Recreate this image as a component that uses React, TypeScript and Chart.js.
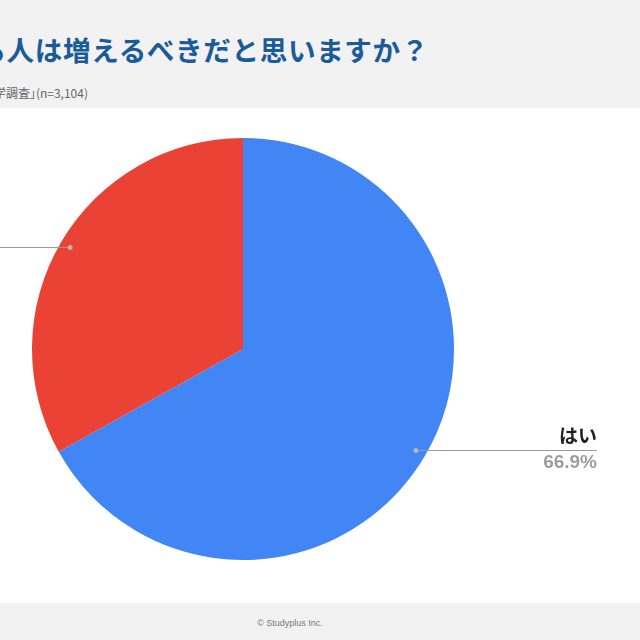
import React, { useEffect, useRef } from "react";
import { Chart, registerables } from "chart.js";

Chart.register(...registerables);

const categories = ["はい", "いいえ"];
const values = [66.9, 33.1];
const colors = ["#4285F4", "#EA4335"];
const titleText = "海外留学する人は増えるべきだと思いますか？";
const subtitleText = "「高校生の留学調査」(n=3,104)";
const footerText = "© Studyplus Inc.";

const leaderPlugin = {
  id: "leaders",
  afterDatasetsDraw(chart: any) {
    const ctx = chart.ctx;
    const meta = chart.getDatasetMeta(0);
    meta.data.forEach((arc: any, i: number) => {
      const { x, y, startAngle, endAngle, outerRadius } = arc.getProps(
        ["x", "y", "startAngle", "endAngle", "outerRadius"],
        true
      );
      const mid = (startAngle + endAngle) / 2;
      const r = outerRadius * 0.95;
      const px = x + Math.cos(mid) * r;
      const py = y + Math.sin(mid) * r;
      const right = Math.cos(mid) >= 0;
      const endX = right ? x + 354 : x - 354;
      ctx.save();
      ctx.strokeStyle = "#9a9a9a";
      ctx.lineWidth = 1;
      ctx.beginPath();
      ctx.moveTo(px, py);
      ctx.lineTo(endX, py);
      ctx.stroke();
      ctx.fillStyle = "rgba(190,190,190,0.9)";
      ctx.beginPath();
      ctx.arc(px, py, 2.5, 0, Math.PI * 2);
      ctx.fill();
      ctx.textAlign = right ? "right" : "left";
      ctx.textBaseline = "alphabetic";
      ctx.fillStyle = "#222222";
      ctx.font = "bold 19px 'Noto Sans CJK JP', sans-serif";
      ctx.fillText(categories[i], endX, py - 7);
      ctx.fillStyle = "#9e9e9e";
      ctx.font = "bold 19px 'Liberation Sans', Arial, sans-serif";
      ctx.fillText(values[i].toFixed(1) + "%", endX, py + 18);
      ctx.restore();
    });
  },
};

export default function App() {
  const ref = useRef<HTMLCanvasElement>(null);
  useEffect(() => {
    if (!ref.current) return;
    const chart = new Chart(ref.current, {
      type: "pie",
      data: {
        labels: categories,
        datasets: [
          {
            data: values,
            backgroundColor: colors,
            borderWidth: 0,
          },
        ],
      },
      options: {
        animation: false,
        responsive: false,
        layout: { padding: { left: 32, right: 186, top: 30, bottom: 43 } },
        plugins: {
          legend: { display: false },
          tooltip: { enabled: false },
        },
      },
      plugins: [leaderPlugin],
    });
    return () => chart.destroy();
  }, []);

  return (
    <div
      style={{
        position: "fixed",
        left: 0,
        top: 0,
        width: 640,
        height: 640,
        background: "#f2f2f2",
        overflow: "hidden",
        fontFamily: "'Noto Sans CJK JP', sans-serif",
      }}
    >
      <div
        style={{
          position: "absolute",
          right: 640 - 429,
          top: 31,
          whiteSpace: "nowrap",
          fontSize: 27.6,
          letterSpacing: "0.62px",
          fontWeight: 700,
          color: "#1b5b9a",
          lineHeight: "36px",
        }}
      >
        {titleText}
      </div>
      <div
        style={{
          position: "absolute",
          right: 640 - 88,
          top: 84,
          whiteSpace: "nowrap",
          fontSize: 12,
          color: "#666",
          lineHeight: "18px",
          fontFeatureSettings: '"palt"',
        }}
      >
        {subtitleText}
      </div>
      <div
        style={{
          position: "absolute",
          left: 0,
          top: 108,
          width: 640,
          height: 495,
          background: "#ffffff",
        }}
      >
        <canvas ref={ref} width={640} height={495} />
      </div>
      <div
        style={{
          position: "absolute",
          left: 0,
          top: 618,
          width: 580,
          textAlign: "center",
          fontSize: 9,
          color: "#777",
          fontFamily: "'Liberation Sans', Arial, sans-serif",
        }}
      >
        {footerText}
      </div>
    </div>
  );
}
